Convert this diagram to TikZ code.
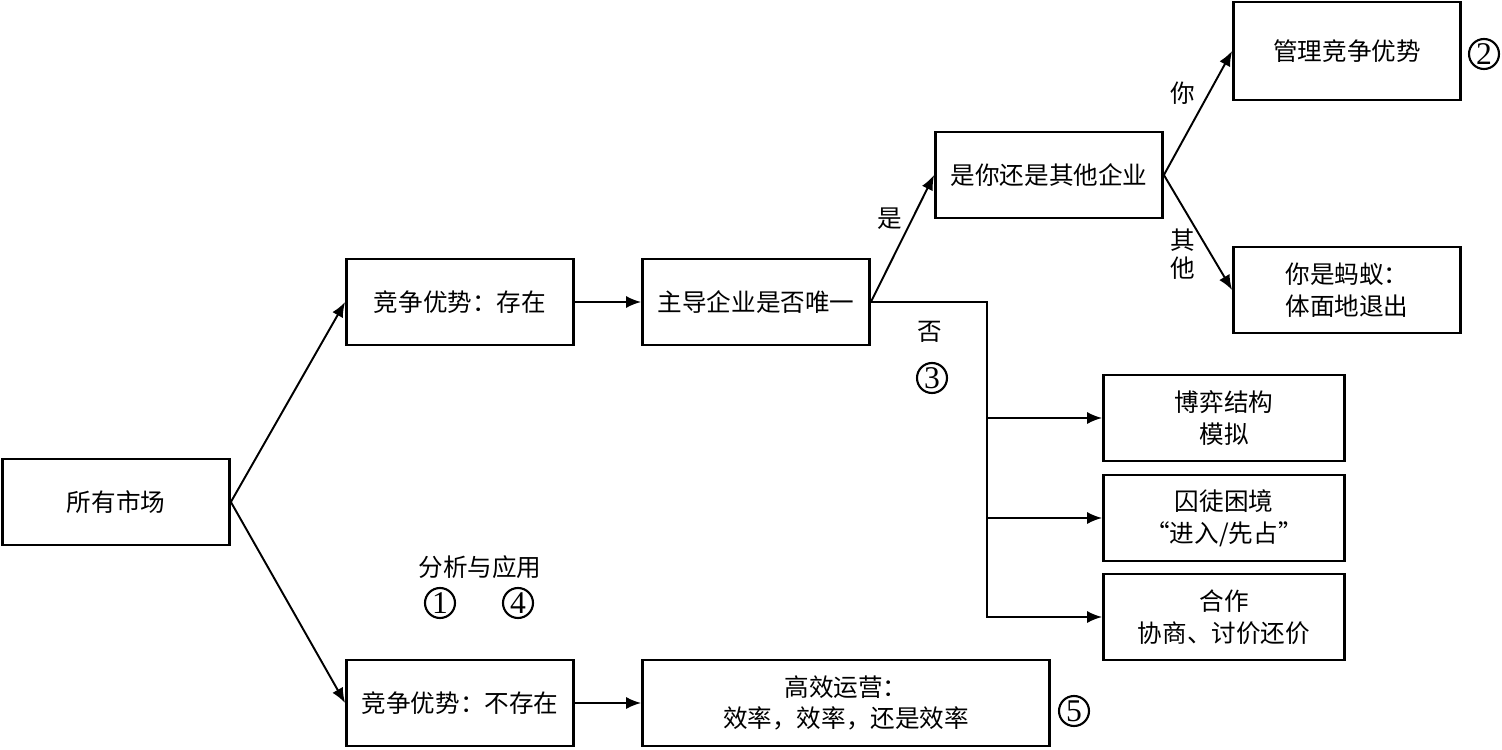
\documentclass[tikz,border=0pt]{standalone}
\usepackage{fontspec}
\setmainfont{Liberation Serif}
\newfontfamily\cjk{Noto Sans CJK SC}
\usetikzlibrary{positioning, arrows.meta}

\begin{document}
\begin{tikzpicture}[
  x=0.02cm, y=-0.02cm,
  font=\cjk\fontsize{14}{18}\selectfont,
  box/.style={draw, line width=1.6pt, minimum width=4.54cm, minimum height=1.72cm, align=center, inner sep=2pt},
  arr/.style={line width=1.1pt, -{Latex[length=0.3cm,width=0.24cm]}},
  num/.style={draw, circle, line width=1.2pt, minimum size=0.6cm, inner sep=0pt, font=\normalfont\fontsize{18}{18}\selectfont}
]
\useasboundingbox (0,0) rectangle (1502,750);

% boxes
\node[box] (all)  at (116,502)  {所有市场};
\node[box] (yes)  at (460,302)  {竞争优势：存在};
\node[box] (no)   at (460,703)  {竞争优势：不存在};
\node[box] (uniq) at (756,302)  {主导企业是否唯一};
\node[box] (who)  at (1049,175) {是你还是其他企业};
\node[box, minimum height=1.96cm] (mgmt) at (1347,51) {管理竞争优势};
\node[box] (ant)  at (1347,290) {你是蚂蚁：\\体面地退出};
\node[box, minimum width=4.82cm] (game) at (1224,418) {博弈结构\\模拟};
\node[box, minimum width=4.82cm] (pd)   at (1224,518) {囚徒困境\\“进入/先占”};
\node[box, minimum width=4.82cm] (coop) at (1224,617) {合作\\协商、讨价还价};
\node[box, minimum width=8.14cm] (ops)  at (846,703)  {高效运营：\\效率，效率，还是效率};

% connectors
\draw[arr] (all.east) -- (yes.west);
\draw[arr] (all.east) -- (no.west);
\draw[arr] (yes) -- (uniq);
\draw[arr] (no) -- (ops);
\draw[arr] (uniq.east) -- (who.west);
\draw[arr] (who.east) -- (mgmt.west);
\draw[arr] (who.east) -- (ant.west);
\coordinate (fork) at (987,302);
\draw[arr] (uniq.east) -- (fork) |- (coop.west);
\draw[arr] (fork |- game.west) -- (game.west);
\draw[arr] (fork |- pd.west) -- (pd.west);

% labels
\node (lyes) at (890,219) {是};
\node (lno)  at (930,332) {否};
\node (lyou) at (1183,93) {你};
\node[align=center, font=\cjk\fontsize{14}{16}\selectfont] (loth) at (1183,254) {其\\他};
\node (lapp) at (480,567) {分析与应用};
\node[num] (n1) at (440,603)  {1};
\node[num] (n2) at (1484,54)  {2};
\node[num] (n3) at (932,378)  {3};
\node[num] (n4) at (518,603)  {4};
\node[num] (n5) at (1074,711) {5};
\end{tikzpicture}
\end{document}
